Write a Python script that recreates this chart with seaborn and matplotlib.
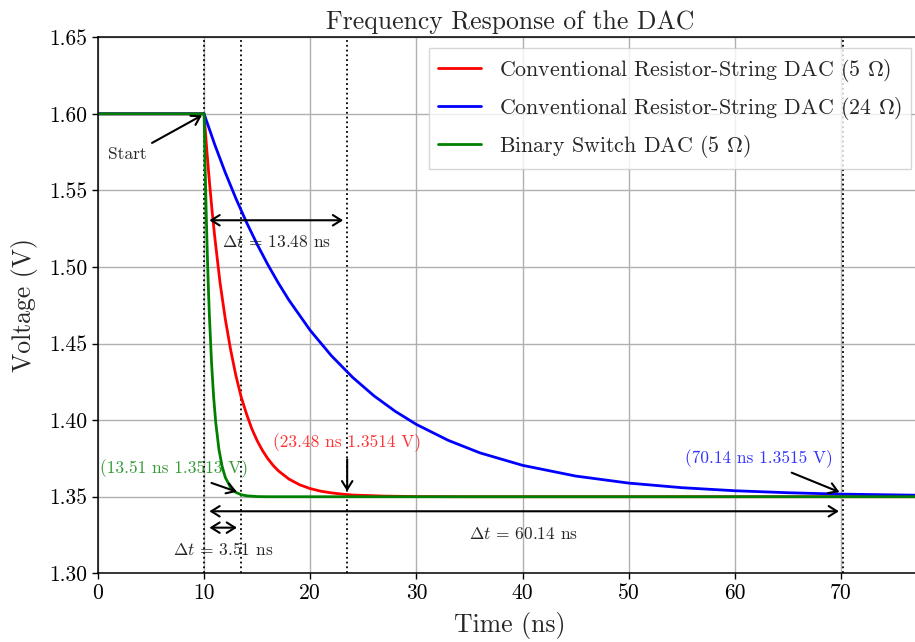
import matplotlib
matplotlib.use("Agg")
import matplotlib.pyplot as plt
import seaborn as sns
import pandas as pd

# ---- data ----
red_t = [0, 10, 10.25, 10.5, 10.75, 11, 11.5, 12, 12.5, 13, 13.5, 14, 14.5, 15, 15.5,
         16, 16.5, 17, 18, 19, 20, 21, 22, 23, 24, 27, 30, 35, 78]
red_v = [1.600, 1.600, 1.577, 1.556, 1.537, 1.520, 1.490, 1.466, 1.446, 1.429, 1.415,
         1.404, 1.3943, 1.3866, 1.3802, 1.3749, 1.3705, 1.3669, 1.3615, 1.3578, 1.3553,
         1.3536, 1.3525, 1.3517, 1.3511, 1.3504, 1.3501, 1.3500, 1.3500]

blue_t = [0, 10, 11, 12, 13, 14, 15, 16, 17, 18, 20, 22, 24, 26, 28, 30, 33, 36, 40,
          45, 50, 55, 60, 65, 70, 78]
blue_v = [1.6, 1.6, 1.5800, 1.5616, 1.5447, 1.5291, 1.5148, 1.5016, 1.4895, 1.4783,
          1.4586, 1.4420, 1.4279, 1.4159, 1.4058, 1.3972, 1.3868, 1.3786, 1.3705,
          1.3635, 1.3589, 1.3559, 1.3539, 1.3526, 1.3517, 1.3509]

green_t = [0, 10, 10.1, 10.2, 10.3, 10.4, 10.5, 10.7, 10.9, 11.1, 11.4, 11.7, 12.0,
           12.5, 13.0, 13.5, 14, 15, 16, 78]
green_v = [1.6, 1.6, 1.5654, 1.5355, 1.5097, 1.4876, 1.4685, 1.4379, 1.4152, 1.3984,
           1.3809, 1.3698, 1.3626, 1.3560, 1.3528, 1.3513, 1.3506, 1.3501, 1.3500, 1.3500]

series_names = [r"Conventional Resistor-String DAC (5 $\Omega$)",
                r"Conventional Resistor-String DAC (24 $\Omega$)",
                r"Binary Switch DAC (5 $\Omega$)"]
series_colors = ["red", "blue", "green"]

marker_times = [10, 13.51, 23.48, 70.14]
x_ticks = [0, 10, 20, 30, 40, 50, 60, 70]
y_ticks = [1.30, 1.35, 1.40, 1.45, 1.50, 1.55, 1.60, 1.65]

# ---- style ----
sns.set_theme(style="whitegrid")
plt.rcParams.update({
    "font.family": "serif",
    "font.serif": ["cmr10"],
    "mathtext.fontset": "cm",
    "axes.formatter.use_mathtext": True,
    "axes.unicode_minus": False,
    "axes.edgecolor": "black",
    "axes.linewidth": 1.1,
    "grid.color": "#b0b0b0",
    "grid.linewidth": 1.0,
    "xtick.bottom": True,
    "ytick.left": True,
    "xtick.color": "black",
    "ytick.color": "black",
    "xtick.major.size": 4,
    "ytick.major.size": 4,
    "xtick.major.width": 1.0,
    "ytick.major.width": 1.0,
})

frames = []
for name, t, v in zip(series_names, [red_t, blue_t, green_t], [red_v, blue_v, green_v]):
    frames.append(pd.DataFrame({"Time": t, "Voltage": v, "Series": name}))
df = pd.concat(frames, ignore_index=True)

fig, ax = plt.subplots(figsize=(9.15, 6.42), dpi=100)
fig.subplots_adjust(left=0.107, right=1.0077, top=0.942, bottom=0.107)

sns.lineplot(data=df, x="Time", y="Voltage", hue="Series", hue_order=series_names,
             palette=series_colors, sort=False, estimator=None, linewidth=2, ax=ax)

for xv in marker_times:
    ax.axvline(xv, color="black", linestyle=":", linewidth=1.3, zorder=1)

ax.set_xlim(0, 77.63)
ax.set_ylim(1.30, 1.65)
ax.set_xticks(x_ticks)
ax.set_yticks(y_ticks)
ax.set_xticklabels([str(v) for v in x_ticks])
ax.set_yticklabels([f"{v:.2f}" for v in y_ticks])
ax.tick_params(labelsize=15.5)
ax.set_xlabel("Time (ns)", fontsize=18.5, labelpad=6)
ax.set_ylabel("Voltage (V)", fontsize=18.5, labelpad=8)
ax.set_title("Frequency Response of the DAC", fontsize=18.5)
for s in ax.spines.values():
    s.set_color("black")

leg = ax.legend(loc="upper right", fontsize=15.8, fancybox=False, framealpha=0.8,
                edgecolor="#cccccc", borderaxespad=0.5)
for line in leg.get_lines():
    line.set_linewidth(2)

arrow1 = dict(arrowstyle="->, head_length=0.4, head_width=0.25", color="black", lw=1.5,
              shrinkA=0, shrinkB=0, mutation_scale=15)
arrow2 = dict(arrowstyle="<->, head_length=0.4, head_width=0.25", color="black", lw=1.5,
              shrinkA=0, shrinkB=0, mutation_scale=15)
fs = 12.5

# Start
ax.annotate("", xy=(9.8, 1.599), xytext=(5.1, 1.581), arrowprops=arrow1)
ax.text(2.8, 1.5736, "Start", fontsize=fs, ha="center", va="center")

# Delta t arrows
ax.annotate("", xy=(10.5, 1.5305), xytext=(23.1, 1.5305), arrowprops=arrow2)
ax.text(16.8, 1.5161, r"$\Delta t$ = 13.48 ns", fontsize=fs, ha="center", va="center")

ax.annotate("", xy=(10.5, 1.3298), xytext=(13.1, 1.3298), arrowprops=arrow2)
ax.text(11.8, 1.3156, r"$\Delta t$ = 3.51 ns", fontsize=fs, ha="center", va="center")

ax.annotate("", xy=(10.5, 1.3405), xytext=(69.8, 1.3405), arrowprops=arrow2)
ax.text(40.1, 1.3254, r"$\Delta t$ = 60.14 ns", fontsize=fs, ha="center", va="center")

# point annotations
ax.text(23.5, 1.3855, "(23.48 ns 1.3514 V)", fontsize=fs, color="red", alpha=0.8,
        ha="center", va="center")
ax.annotate("", xy=(23.48, 1.3535), xytext=(23.48, 1.3745), arrowprops=arrow1)

ax.text(7.2, 1.3685, "(13.51 ns 1.3513 V)", fontsize=fs, color="green", alpha=0.8,
        ha="center", va="center")
ax.annotate("", xy=(13.1, 1.3532), xytext=(10.7, 1.359), arrowprops=arrow1)

ax.text(62.3, 1.375, "(70.14 ns 1.3515 V)", fontsize=fs, color="blue", alpha=0.8,
        ha="center", va="center")
ax.annotate("", xy=(69.85, 1.353), xytext=(65.35, 1.3657), arrowprops=arrow1)

fig.savefig("out.png", dpi=100)
